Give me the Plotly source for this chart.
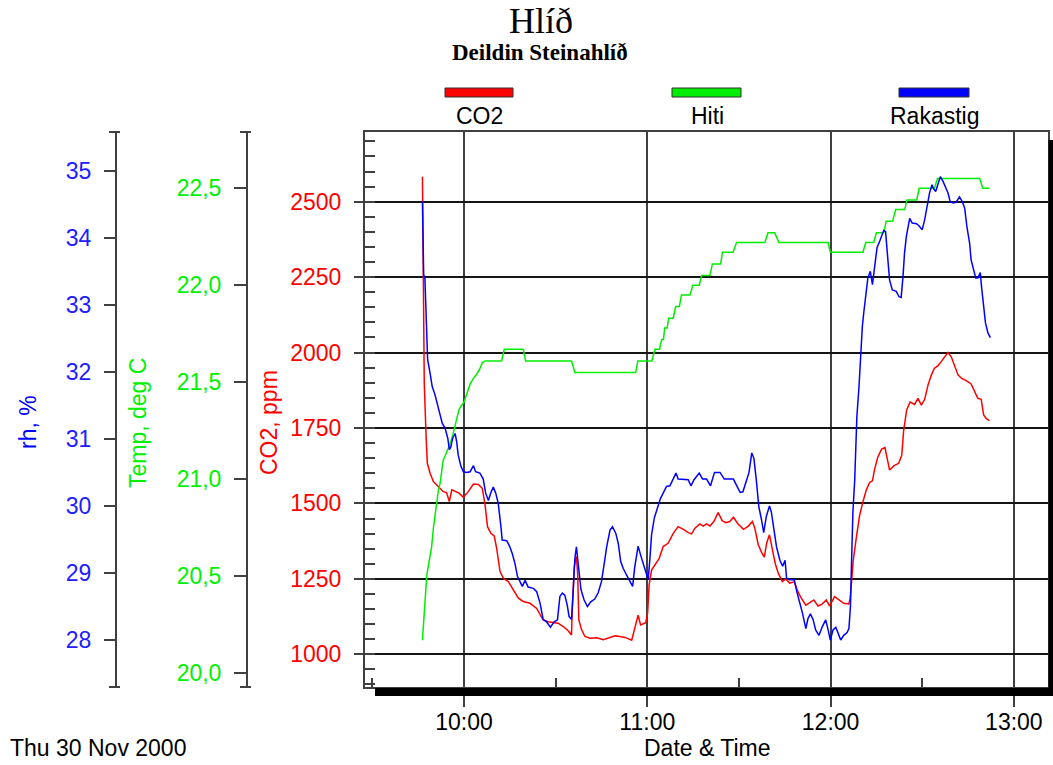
import pandas as pd
import plotly.graph_objects as go

# Logger readings, Thu 30 Nov 2000. Times are minutes after 10:00.
START = pd.Timestamp("2000-11-30 10:00:00")

co2_min = [-13.6, -13.5, -13.3, -13.0, -12.4, -12.0, -11.1, -10.0, -8.9, -7.8, -6.8, -5.7, -4.8, -4.0,
           -2.9, -1.6, -0.2, 1.4, 3.1, 4.7, 6.0, 6.9, 7.7, 8.8, 9.9, 10.7, 11.8, 12.9, 14.5, 16.1,
           17.8, 19.4, 21.6, 23.8, 24.9, 25.9, 27.6, 29.2, 30.8, 32.5, 34.1, 35.2, 35.4, 36.1, 36.8,
           37.2, 37.6, 38.5, 39.6, 41.2, 43.4, 45.6, 47.8, 49.4, 51.0, 52.7, 54.9, 56.0, 57.0, 57.8,
           59.5, 60.1, 60.6, 61.4, 62.5, 63.9, 65.2, 66.8, 68.5, 70.1, 71.8, 73.4, 74.5, 75.6, 77.2,
           78.3, 79.4, 80.5, 81.8, 83.2, 84.5, 85.7, 87.0, 88.2, 89.7, 91.5, 93.0, 94.4, 95.2, 96.3,
           97.4, 98.3, 99.1, 100.0, 100.8, 101.9, 102.9, 104.2, 105.3, 106.6, 108.1, 109.4, 110.4,
           111.9, 113.2, 114.5, 115.9, 117.3, 118.6, 119.7, 121.3, 122.8, 124.3, 126.0, 126.4, 126.9,
           127.4, 128.4, 129.5, 130.6, 131.7, 132.8, 133.7, 134.4, 135.5, 136.7, 137.8, 138.6, 139.3,
           140.8, 142.3, 143.3, 143.9, 144.9, 146.0, 147.5, 148.6, 149.7, 150.8, 151.9, 153.0, 154.0,
           155.1, 156.2, 157.3, 158.4, 159.5, 160.6, 161.7, 162.8, 164.4, 166.0, 167.1, 168.2, 169.3,
           170.1, 170.9, 172.0]
co2_ppm = [2583, 2430, 2141, 1898, 1721, 1633, 1600, 1572, 1561, 1550, 1539, 1536, 1506, 1545,
           1541, 1534, 1520, 1539, 1564, 1563, 1550, 1495, 1423, 1401, 1392, 1351, 1274, 1252, 1241, 1213,
           1186, 1175, 1169, 1152, 1130, 1114, 1108, 1105, 1103, 1092, 1078, 1064, 1136, 1291, 1324,
           1268, 1114, 1081, 1059, 1053, 1055, 1048, 1056, 1061, 1059, 1056, 1047, 1086, 1130, 1097,
           1105, 1136, 1230, 1279, 1296, 1318, 1357, 1368, 1401, 1423, 1414, 1403, 1399, 1418, 1432,
           1425, 1432, 1425, 1440, 1470, 1443, 1436, 1440, 1454, 1432, 1414, 1424, 1440, 1418, 1364,
           1338, 1322, 1370, 1396, 1354, 1300, 1268, 1241, 1250, 1236, 1240, 1205, 1186,
           1163, 1171, 1180, 1160, 1167, 1180, 1160, 1191, 1180, 1169, 1167, 1186, 1245,
           1310, 1385, 1460, 1506, 1545, 1570, 1575, 1613, 1655, 1680, 1685, 1645, 1611,
           1625, 1633, 1660, 1740, 1810, 1836, 1828, 1848, 1826, 1845, 1893, 1926, 1948,
           1956, 1970, 1986, 2000, 1986, 1959, 1926, 1915, 1907, 1896, 1870, 1848, 1845,
           1793, 1782, 1774]

temp_min = [-13.6, -13.3, -12.8, -12.2, -11.7, -11.1, -10.6, -10.0, -9.5, -8.9, -8.4, -7.8, -7.3, -6.8,
            -6.2, -5.3, -4.6, -3.8, -3.2, -2.4, -1.6, -0.8, 0.1, 0.9, 2.0, 3.1, 4.1, 5.2, 6.0, 6.9,
            12.3, 13.2, 19.4, 20.2, 35.2, 36.3, 56.2, 56.9, 61.5, 62.5, 64.0, 64.7, 65.3, 65.7, 66.5,
            67.0, 68.5, 69.3, 70.5, 71.2, 74.0, 74.9, 77.0, 77.8, 80.5, 81.3, 84.0, 84.6, 88.1, 89.2,
            98.5, 99.5, 101.7, 103.1, 119.2, 119.9, 130.6, 131.5, 134.1, 135.0, 137.4, 138.2, 140.3,
            141.3, 144.3, 145.0, 148.2, 149.0, 154.0, 155.0, 168.8, 169.8, 172.0]
temp_c = [20.17, 20.24, 20.38, 20.50, 20.55, 20.62, 20.65, 20.75, 20.82, 20.89, 20.94, 20.98, 21.03, 21.10,
          21.12, 21.15, 21.18, 21.22, 21.26, 21.32, 21.36, 21.38, 21.40, 21.44, 21.49, 21.52, 21.54, 21.57, 21.60, 21.61,
          21.61, 21.67, 21.67, 21.61, 21.61, 21.55, 21.55, 21.61, 21.61, 21.67, 21.67, 21.72, 21.72, 21.78, 21.78,
          21.83, 21.83, 21.89, 21.89, 21.95, 21.95, 22.00, 22.00, 22.05, 22.05, 22.11, 22.11, 22.17, 22.17, 22.22,
          22.22, 22.27, 22.27, 22.22, 22.22, 22.17, 22.17, 22.22, 22.22, 22.27, 22.27, 22.33, 22.33,
          22.39, 22.39, 22.44, 22.44, 22.50, 22.50, 22.55, 22.55, 22.50, 22.50]

rh_min = [-13.6, -13.5, -13.2, -12.8, -12.5, -12.2, -11.9, -11.1, -10.4, -9.5, -8.6, -7.8, -7.1, -6.2,
          -5.3, -4.8, -4.3, -3.7, -2.9, -2.4, -1.9, -1.0, -0.2, 0.9, 2.0, 3.1, 3.8, 5.2, 6.3, 7.1,
          8.0, 8.8, 9.6, 10.4, 11.2, 12.1, 12.5, 14.0, 15.0, 15.8, 16.7, 17.5, 18.3, 19.1, 20.0,
          21.0, 22.7, 23.8, 24.9, 25.9, 27.0, 28.3, 29.5, 30.6, 31.4, 32.2, 33.0, 33.8, 34.4, 35.2,
          35.8, 36.3, 36.8, 37.4, 38.3, 39.3, 40.4, 41.5, 42.8, 43.9, 45.0, 46.1, 46.7, 47.8, 48.6,
          49.7, 50.5, 51.3, 52.1, 53.2, 54.3, 55.2, 55.9, 57.0, 57.8, 58.9, 59.8, 60.3, 60.9, 61.4,
          62.3, 63.3, 64.3, 65.4, 66.3, 67.4, 68.5, 69.4, 70.1, 71.8, 73.4, 74.3, 75.3, 77.0, 78.1,
          79.4, 80.7, 82.0, 83.8, 85.2, 87.0, 88.2, 89.3, 90.4, 91.3, 92.3, 93.3, 94.2, 94.9, 95.7,
          96.5, 97.4, 98.1, 99.0, 100.0, 100.6, 101.4, 102.3, 103.4, 104.3, 105.1, 105.6, 106.6, 108.1,
          109.0, 109.9, 110.8, 111.9, 112.6, 113.4, 114.3, 115.1, 116.2, 117.3, 118.4, 119.2, 119.9,
          120.8, 121.7, 122.4, 123.3, 124.3, 125.4, 126.0, 126.5, 126.8, 127.3, 127.9, 128.6, 129.3,
          129.8, 130.4, 130.9, 131.7, 132.2, 133.0, 133.7, 134.1, 134.8, 135.2, 136.1, 136.9, 137.4,
          138.0, 138.5, 138.8, 139.3, 140.2, 141.5, 142.4, 143.1, 143.7, 144.2, 144.8, 145.3, 145.9,
          146.7, 148.1, 148.9, 150.0, 150.8, 151.5, 152.4, 153.2, 153.7, 154.4, 155.1, 155.9, 156.8,
          157.6, 158.4, 159.2, 160.3, 161.1, 162.2, 163.1, 163.9, 164.6, 165.5, 166.0, 166.8, 167.5,
          168.2, 169.0, 169.4, 170.1, 170.7, 171.5, 172.3]
rh_pct = [34.54, 34.19, 33.45, 33.40, 32.88, 32.45, 32.18, 31.98, 31.78, 31.66, 31.51, 31.38, 31.23, 31.16,
          31.01, 30.84, 30.88, 31.01, 31.08, 30.96, 30.76, 30.59, 30.51, 30.50, 30.51, 30.60, 30.51, 30.49, 30.40, 30.19,
          30.08, 30.20, 30.28, 30.19, 30.04, 29.69, 29.49, 29.48, 29.39, 29.29, 29.14, 28.95, 28.87, 28.80, 28.89,
          28.79, 28.77, 28.72, 28.55, 28.31, 28.27, 28.19, 28.27, 28.30, 28.65, 28.70, 28.67, 28.52, 28.35, 28.31,
          28.77, 29.22, 29.39, 29.09, 28.75, 28.60, 28.50, 28.57, 28.61, 28.70, 28.87, 29.20, 29.39, 29.64, 29.69,
          29.59, 29.44, 29.17, 29.07, 28.97, 28.87, 28.80, 29.09, 29.40, 29.27, 29.12, 29.00, 28.90, 29.24, 29.57,
          29.82, 29.97, 30.11, 30.21, 30.29, 30.30, 30.41, 30.49, 30.40, 30.40, 30.39, 30.30, 30.39, 30.49, 30.40,
          30.40, 30.30, 30.50, 30.50, 30.40, 30.40, 30.40, 30.30, 30.20, 30.21, 30.35, 30.50, 30.79, 30.71, 30.38,
          29.99, 29.79, 29.60, 29.85, 30.00, 29.91, 29.63, 29.39, 29.19, 29.10, 29.19, 28.92, 28.90, 28.90,
          28.71, 28.56, 28.40, 28.17, 28.32, 28.39, 28.30, 28.15, 28.07, 28.20, 28.30, 28.15, 28.00,
          28.15, 28.19, 28.11, 28.00, 28.07, 28.11, 28.17, 28.50, 29.06, 29.90, 30.39, 31.33, 31.78,
          32.28, 32.68, 32.90, 33.22, 33.40, 33.50, 33.30, 33.45, 33.67, 33.85, 33.95, 34.07, 34.11,
          34.09, 33.82, 33.57, 33.37, 33.22, 33.20, 33.12, 33.11, 33.42, 33.77, 34.02, 34.17, 34.29,
          34.22, 34.21, 34.18, 34.12, 34.27, 34.47, 34.67, 34.79, 34.73, 34.69, 34.78, 34.91, 34.84,
          34.74, 34.67, 34.53, 34.52, 34.53, 34.61, 34.54, 34.44, 34.17, 33.92, 33.67, 33.52, 33.40,
          33.40, 33.48, 33.27, 32.98, 32.73, 32.58, 32.51]

temp_ticks = [20.0, 20.5, 21.0, 21.5, 22.0, 22.5]
temp_labels = ["20,0", "20,5", "21,0", "21,5", "22,0", "22,5"]

series_names = ["CO2", "Hiti", "Rakastig"]
RED, GREEN, BLUE = "#ff0000", "#00ee00", "#0000ff"
SANS = "Liberation Sans, Arial, sans-serif"
SERIF = "Liberation Serif, Times New Roman, serif"
FRAME = "#404040"

W, H = 1053, 765


def px(x):
    return x / W


def py(y):
    return 1 - y / H


def clock(mins):
    return [START + pd.Timedelta(minutes=m) for m in mins]


fig = go.Figure()
fig.add_trace(go.Scatter(x=clock(temp_min), y=temp_c, yaxis="y2", mode="lines",
                         line=dict(color=GREEN, width=1.5), name=series_names[1]))
fig.add_trace(go.Scatter(x=clock(co2_min), y=co2_ppm, yaxis="y", mode="lines",
                         line=dict(color=RED, width=1.5), name=series_names[0]))
fig.add_trace(go.Scatter(x=clock(rh_min), y=rh_pct, yaxis="y3", mode="lines",
                         line=dict(color=BLUE, width=1.5), name=series_names[2]))

y_dom = [py(687), py(132)]


def tickfont(c):
    return dict(family=SANS, size=23, color=c)


fig.update_layout(
    width=W, height=H,
    margin=dict(l=0, r=0, t=0, b=0),
    paper_bgcolor="white", plot_bgcolor="white",
    showlegend=False,
    xaxis=dict(
        type="date", domain=[px(365), px(1047.5)],
        range=[START - pd.Timedelta(minutes=32.4), START + pd.Timedelta(minutes=191.0)],
        dtick=3600000, tickformat="%H:%M",
        showgrid=True, gridcolor=FRAME, gridwidth=2,
        ticks="outside", ticklen=18, tickwidth=2, tickcolor=FRAME,
        minor=dict(dtick=1800000, ticks="inside", ticklen=9, tickwidth=2, tickcolor=FRAME, showgrid=False),
        showline=True, linecolor=FRAME, linewidth=2, mirror=True,
        tickfont=tickfont("black"), ticklabelstandoff=-5, zeroline=False, automargin=False,
    ),
    yaxis=dict(
        domain=y_dom, range=[891.6, 2731],
        tick0=1000, dtick=250,
        showgrid=True, gridcolor="#151515", gridwidth=2,
        ticks="outside", ticklen=9, tickwidth=2, tickcolor=FRAME,
        minor=dict(tick0=1000, dtick=50, ticks="inside", ticklen=10, tickwidth=2, tickcolor=FRAME,
                   showgrid=False),
        showline=True, linecolor=FRAME, linewidth=2, mirror=True,
        tickfont=tickfont(RED), ticklabelstandoff=8, zeroline=False, automargin=False,
    ),
    yaxis2=dict(
        overlaying="y", anchor="free", position=px(247), side="left",
        range=[19.929, 22.790], tickvals=temp_ticks, ticktext=temp_labels,
        showgrid=False, zeroline=False,
        ticks="outside", ticklen=12, tickwidth=2, tickcolor=FRAME,
        showline=True, linecolor=FRAME, linewidth=2,
        tickfont=tickfont("#00f000"), ticklabelstandoff=8, automargin=False,
    ),
    yaxis3=dict(
        overlaying="y", anchor="free", position=px(116), side="left",
        range=[27.299, 35.577], tick0=28, dtick=1,
        showgrid=False, zeroline=False,
        ticks="outside", ticklen=11, tickwidth=2, tickcolor=FRAME,
        showline=True, linecolor=FRAME, linewidth=2,
        tickfont=tickfont("#2020ff"), ticklabelstandoff=8, automargin=False,
    ),
)

shapes = []
# drop shadow under and right of the plot frame
shapes.append(dict(type="rect", xref="paper", yref="paper", x0=px(375), x1=px(1053), y0=py(696), y1=py(688),
                   fillcolor="black", line=dict(width=0)))
shapes.append(dict(type="rect", xref="paper", yref="paper", x0=px(1048.5), x1=px(1053), y0=py(696), y1=py(140),
                   fillcolor="black", line=dict(width=0)))
# end caps on the free axes
for ax_x in (116, 247):
    for cap_y in (132, 687):
        shapes.append(dict(type="line", xref="paper", yref="paper", x0=px(ax_x - 7), x1=px(ax_x + 4),
                           y0=py(cap_y), y1=py(cap_y), line=dict(color=FRAME, width=2)))
# legend swatches
swatches = [(445, 513, RED), (672, 741, GREEN), (899, 969, BLUE)]
for x0, x1, col in swatches:
    shapes.append(dict(type="rect", xref="paper", yref="paper", x0=px(x0), x1=px(x1), y0=py(97), y1=py(88),
                       fillcolor=col, line=dict(color="#303030", width=1)))
fig.update_layout(shapes=shapes)

ann = []


def text(x, y, s, size=23, color="black", family=SANS, xanchor="center", angle=0):
    ann.append(dict(x=px(x), y=py(y), xref="paper", yref="paper", text=s, showarrow=False,
                    xanchor=xanchor, yanchor="middle", textangle=angle,
                    font=dict(family=family, size=size, color=color)))


text(541, 21, "Hlíð", size=36, family=SERIF)
text(540, 53, "<b>Deildin Steinahlíð</b>", size=23, family=SERIF)
legend_x = [479, 707, 934]
for name, lx in zip(series_names, legend_x):
    text(lx, 116, name)
text(28, 422, "rh, %", color=BLUE, angle=-90)
text(138, 423, "Temp, deg C", color="#00f000", angle=-90)
text(269, 423, "CO2, ppm", color=RED, angle=-90)
text(707, 748, "Date & Time")
text(8, 748, "Thu 30 Nov 2000", xanchor="left")
fig.update_layout(annotations=ann)

fig.write_html("out.html")
